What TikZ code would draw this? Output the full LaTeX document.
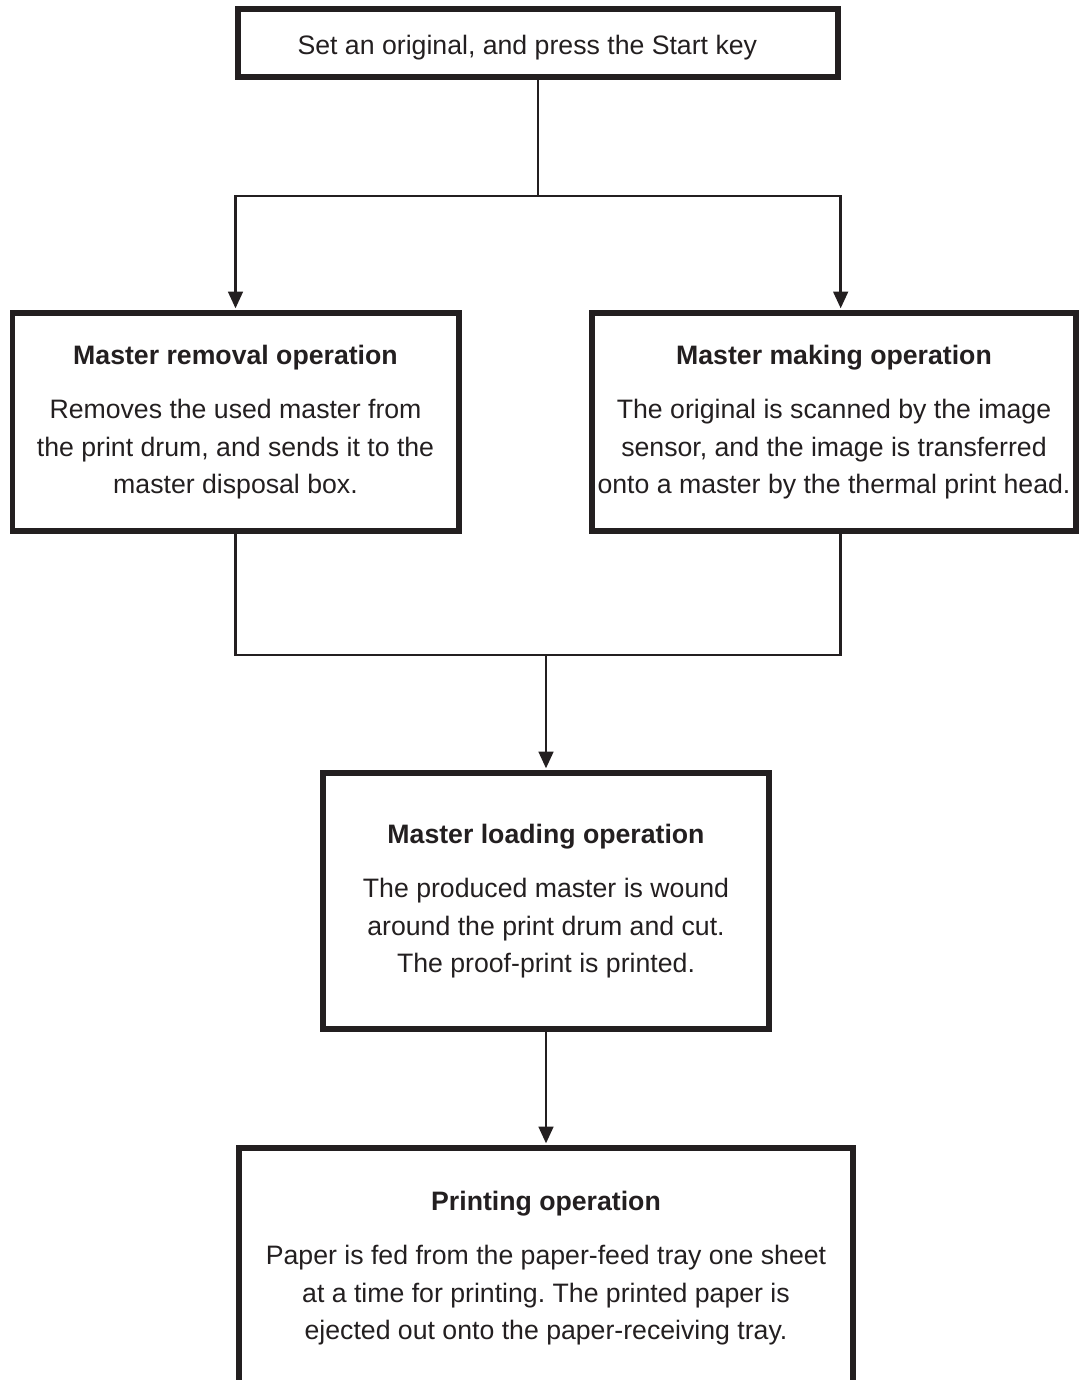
\documentclass[tikz,border=0pt]{standalone}
\usepackage{fontspec}
\setmainfont{Liberation Sans}
\usetikzlibrary{arrows.meta,positioning}
\definecolor{ink}{HTML}{231F20}
\frenchspacing

\begin{document}
\begin{tikzpicture}[x=0.75pt, y=-0.75pt,
    stage/.style={draw=ink, line width=4pt, rectangle, inner sep=0pt, align=center,
                  text=ink, font=\fontsize{20}{28}\selectfont},
    link/.style={draw=ink, line width=1.8pt},
    flow/.style={link, -{Triangle[length=12.5pt, width=11pt]}, shorten >=1.5pt}]

    \clip (0, 0) rectangle (1080, 1380);

    % Start
    \node [stage, minimum width=450pt, minimum height=51pt, text height=22pt, text depth=4pt]
        (start) at (538, 43) {Set an original, and press the Start key\hspace*{16pt}};

    % Removal and making, side by side
    \node [stage, minimum width=335pt, minimum height=163.5pt] (removal) at (235.5, 422)
        {{\bfseries Master removal operation}\\[13pt]
         Removes the used master from\\
         the print drum, and sends it to the\\
         master disposal box.};
    \node [stage, minimum width=363pt, minimum height=163.5pt] (making) at (834, 422)
        {{\bfseries Master making operation}\\[13pt]
         The original is scanned by the image\\
         sensor, and the image is transferred\\
         onto a master by the thermal print head.};

    % Loading
    \node [stage, minimum width=334.5pt, minimum height=192pt] (loading) at (546, 901)
        {{\bfseries Master loading operation}\\[13pt]
         The produced master is wound\\
         around the print drum and cut.\\
         The proof-print is printed.};

    % Printing (runs off the bottom)
    \node [stage, minimum width=460.5pt, minimum height=180pt] (printing) at (546, 1268)
        {{\bfseries Printing operation}\\[13pt]
         Paper is fed from the paper-feed tray one sheet\\
         at a time for printing. The printed paper is\\
         ejected out onto the paper-receiving tray.};

    % Fork and merge
    \coordinate (fork) at (538, 196);
    \coordinate (merge) at (546, 655);
    \draw [link] (start.south) -- (fork);
    \draw [flow] (fork) -| (removal.north);
    \draw [flow] (fork) -| ([xshift=5pt]making.north);
    \draw [link] (removal.south) |- (merge);
    \draw [link] ([xshift=5pt]making.south) |- (merge);
    \draw [flow] (merge) -- (loading.north);
    \draw [flow] (loading.south) -- (printing.north);
\end{tikzpicture}
\end{document}
